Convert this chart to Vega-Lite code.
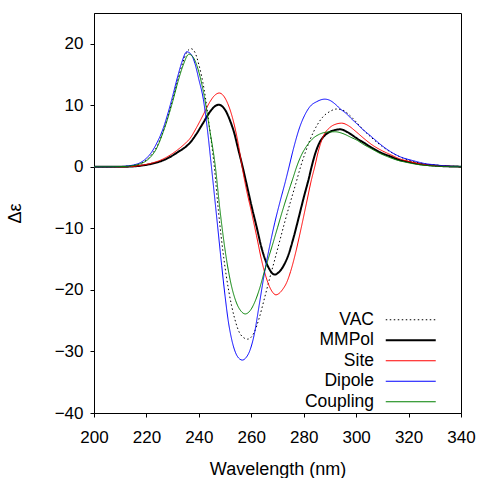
{
  "$schema": "https://vega.github.io/schema/vega-lite/v6.json",
  "autosize": {"type": "none"},
  "padding": {"left": 94, "top": 13, "right": 18, "bottom": 65},
  "width": 367,
  "height": 400,
  "background": "white",
  "config": {
    "view": {"stroke": "black", "strokeWidth": 1},
    "font": "Liberation Sans",
    "axis": {
      "grid": false,
      "domainColor": "black",
      "tickColor": "black",
      "labelColor": "black",
      "titleColor": "black",
      "labelFont": "Liberation Sans",
      "titleFont": "Liberation Sans",
      "labelFontSize": 17,
      "titleFontSize": 18,
      "titleFontWeight": "normal",
      "labelFlush": false,
      "tickSize": 4
    },
    "legend": {
      "orient": "none",
      "legendX": 308,
      "legendY": 298,
      "padding": 0,
      "symbolType": "M-5,0H5",
      "symbolSize": 100,
      "symbolStrokeWidth": 1.2,
      "rowPadding": 1.5,
      "labelAlign": "right",
      "labelOffset": -45.5,
      "labelFont": "Liberation Sans",
      "labelFontSize": 17.5,
      "labelColor": "black",
      "labelLimit": 0
    }
  },
  "layer": [
    {
      "mark": {"type": "rule", "color": "black", "strokeWidth": 1},
      "encoding": {"y": {"datum": 0, "type": "quantitative"}}
    },
    {
      "data": {
        "values": [
          {"s":"VAC","x":200,"y":0},{"s":"VAC","x":205,"y":0.01},{"s":"VAC","x":210,"y":0.05},{"s":"VAC","x":213,"y":0.12},{"s":"VAC","x":216,"y":0.32},{"s":"VAC","x":218,"y":0.6},{"s":"VAC","x":220,"y":1.1},{"s":"VAC","x":222,"y":2.0},{"s":"VAC","x":224,"y":3.3},{"s":"VAC","x":226,"y":5.3},{"s":"VAC","x":228,"y":7.9},{"s":"VAC","x":230,"y":10.9},{"s":"VAC","x":232,"y":14.2},{"s":"VAC","x":234,"y":17.1},{"s":"VAC","x":235.5,"y":18.7},{"s":"VAC","x":237,"y":19.2},{"s":"VAC","x":238.5,"y":18.6},{"s":"VAC","x":240,"y":16.6},{"s":"VAC","x":242,"y":12.6},{"s":"VAC","x":244,"y":6.6},{"s":"VAC","x":245.9,"y":0},{"s":"VAC","x":247.5,"y":-7.3},{"s":"VAC","x":249.5,"y":-14.8},{"s":"VAC","x":251.5,"y":-20.4},{"s":"VAC","x":253.5,"y":-24.4},{"s":"VAC","x":256,"y":-27.3},{"s":"VAC","x":258.6,"y":-28.0},{"s":"VAC","x":261,"y":-27.0},{"s":"VAC","x":263,"y":-24.6},{"s":"VAC","x":265,"y":-21.4},{"s":"VAC","x":266.9,"y":-18.3},{"s":"VAC","x":269,"y":-15.0},{"s":"VAC","x":271,"y":-11.8},{"s":"VAC","x":273,"y":-8.6},{"s":"VAC","x":275,"y":-5.6},{"s":"VAC","x":277,"y":-2.7},{"s":"VAC","x":278.8,"y":0},{"s":"VAC","x":280.5,"y":2.2},{"s":"VAC","x":282.5,"y":4.5},{"s":"VAC","x":285,"y":6.7},{"s":"VAC","x":287.5,"y":8.2},{"s":"VAC","x":290,"y":9.0},{"s":"VAC","x":292.5,"y":9.4},{"s":"VAC","x":295,"y":9.2},{"s":"VAC","x":297.5,"y":8.4},{"s":"VAC","x":300,"y":7.3},{"s":"VAC","x":303,"y":5.9},{"s":"VAC","x":306,"y":4.7},{"s":"VAC","x":310,"y":3.3},{"s":"VAC","x":314,"y":2.2},{"s":"VAC","x":318,"y":1.4},{"s":"VAC","x":322,"y":0.85},{"s":"VAC","x":326,"y":0.5},{"s":"VAC","x":330,"y":0.28},{"s":"VAC","x":335,"y":0.12},{"s":"VAC","x":340,"y":0.05},

          {"s":"MMPol","x":200,"y":0},{"s":"MMPol","x":210,"y":0.01},{"s":"MMPol","x":214,"y":0.05},{"s":"MMPol","x":218,"y":0.2},{"s":"MMPol","x":222,"y":0.5},{"s":"MMPol","x":226,"y":1.0},{"s":"MMPol","x":229,"y":1.6},{"s":"MMPol","x":232,"y":2.4},{"s":"MMPol","x":234.5,"y":3.1},{"s":"MMPol","x":236.6,"y":3.9},{"s":"MMPol","x":239,"y":5.3},{"s":"MMPol","x":241.6,"y":7.1},{"s":"MMPol","x":244,"y":8.8},{"s":"MMPol","x":246,"y":9.8},{"s":"MMPol","x":247.6,"y":10.1},{"s":"MMPol","x":249,"y":9.8},{"s":"MMPol","x":250.5,"y":8.9},{"s":"MMPol","x":252,"y":7.4},{"s":"MMPol","x":253.5,"y":5.5},{"s":"MMPol","x":255,"y":2.9},{"s":"MMPol","x":256.7,"y":0},{"s":"MMPol","x":258,"y":-2.4},{"s":"MMPol","x":260,"y":-6.2},{"s":"MMPol","x":262,"y":-9.7},{"s":"MMPol","x":264,"y":-13.3},{"s":"MMPol","x":265.5,"y":-15.3},{"s":"MMPol","x":267,"y":-16.7},{"s":"MMPol","x":268,"y":-17.3},{"s":"MMPol","x":269.1,"y":-17.5},{"s":"MMPol","x":270,"y":-17.3},{"s":"MMPol","x":271,"y":-16.9},{"s":"MMPol","x":272,"y":-16.3},{"s":"MMPol","x":273,"y":-15.5},{"s":"MMPol","x":274,"y":-14.5},{"s":"MMPol","x":276,"y":-11.7},{"s":"MMPol","x":278,"y":-8.4},{"s":"MMPol","x":280,"y":-5.0},{"s":"MMPol","x":282,"y":-1.8},{"s":"MMPol","x":283,"y":0},{"s":"MMPol","x":284.5,"y":2.3},{"s":"MMPol","x":286,"y":3.9},{"s":"MMPol","x":288,"y":5.1},{"s":"MMPol","x":290,"y":5.7},{"s":"MMPol","x":292,"y":6.0},{"s":"MMPol","x":294,"y":6.1},{"s":"MMPol","x":296,"y":5.8},{"s":"MMPol","x":298,"y":5.3},{"s":"MMPol","x":300,"y":4.7},{"s":"MMPol","x":303,"y":3.9},{"s":"MMPol","x":306,"y":3.1},{"s":"MMPol","x":310,"y":2.2},{"s":"MMPol","x":313,"y":1.7},{"s":"MMPol","x":316,"y":1.2},{"s":"MMPol","x":320,"y":0.8},{"s":"MMPol","x":325,"y":0.4},{"s":"MMPol","x":330,"y":0.2},{"s":"MMPol","x":335,"y":0.08},{"s":"MMPol","x":340,"y":0.03},

          {"s":"Site","x":200,"y":0},{"s":"Site","x":210,"y":0.01},{"s":"Site","x":214,"y":0.05},{"s":"Site","x":218,"y":0.25},{"s":"Site","x":222,"y":0.6},{"s":"Site","x":226,"y":1.2},{"s":"Site","x":229,"y":1.9},{"s":"Site","x":232,"y":2.8},{"s":"Site","x":234.5,"y":3.7},{"s":"Site","x":236.6,"y":4.6},{"s":"Site","x":239,"y":6.3},{"s":"Site","x":241.6,"y":8.4},{"s":"Site","x":244,"y":10.4},{"s":"Site","x":246,"y":11.6},{"s":"Site","x":247.8,"y":12.0},{"s":"Site","x":249.3,"y":11.6},{"s":"Site","x":251,"y":10.3},{"s":"Site","x":253,"y":7.7},{"s":"Site","x":255,"y":3.8},{"s":"Site","x":256.5,"y":0},{"s":"Site","x":258,"y":-3.4},{"s":"Site","x":260,"y":-7.2},{"s":"Site","x":262,"y":-11.2},{"s":"Site","x":264,"y":-15.3},{"s":"Site","x":266,"y":-18.4},{"s":"Site","x":268,"y":-20.3},{"s":"Site","x":269.4,"y":-20.8},{"s":"Site","x":270.5,"y":-20.6},{"s":"Site","x":272,"y":-19.9},{"s":"Site","x":273.5,"y":-18.8},{"s":"Site","x":275,"y":-17.0},{"s":"Site","x":277,"y":-13.8},{"s":"Site","x":279,"y":-10.0},{"s":"Site","x":281,"y":-6.0},{"s":"Site","x":283,"y":-2.0},{"s":"Site","x":284.2,"y":0},{"s":"Site","x":285.5,"y":2.4},{"s":"Site","x":287.5,"y":5.0},{"s":"Site","x":290,"y":6.4},{"s":"Site","x":292,"y":6.9},{"s":"Site","x":294.5,"y":7.1},{"s":"Site","x":297,"y":6.7},{"s":"Site","x":300,"y":5.7},{"s":"Site","x":303,"y":4.6},{"s":"Site","x":306,"y":3.6},{"s":"Site","x":310,"y":2.6},{"s":"Site","x":313,"y":2.0},{"s":"Site","x":316,"y":1.4},{"s":"Site","x":320,"y":0.9},{"s":"Site","x":325,"y":0.45},{"s":"Site","x":330,"y":0.22},{"s":"Site","x":335,"y":0.09},{"s":"Site","x":340,"y":0.03},

          {"s":"Dipole","x":200,"y":0},{"s":"Dipole","x":205,"y":0.01},{"s":"Dipole","x":210,"y":0.05},{"s":"Dipole","x":213,"y":0.15},{"s":"Dipole","x":215,"y":0.3},{"s":"Dipole","x":217.5,"y":0.65},{"s":"Dipole","x":220,"y":1.4},{"s":"Dipole","x":222,"y":2.4},{"s":"Dipole","x":224,"y":3.9},{"s":"Dipole","x":226,"y":5.8},{"s":"Dipole","x":228,"y":8.4},{"s":"Dipole","x":230,"y":11.5},{"s":"Dipole","x":232,"y":14.8},{"s":"Dipole","x":233.5,"y":17.0},{"s":"Dipole","x":235.4,"y":18.7},{"s":"Dipole","x":237,"y":18.3},{"s":"Dipole","x":238.5,"y":16.8},{"s":"Dipole","x":240,"y":14.2},{"s":"Dipole","x":241.7,"y":11.0},{"s":"Dipole","x":243,"y":7.0},{"s":"Dipole","x":244.8,"y":0},{"s":"Dipole","x":247,"y":-9.0},{"s":"Dipole","x":248.7,"y":-16.0},{"s":"Dipole","x":250,"y":-21.0},{"s":"Dipole","x":251.2,"y":-25.0},{"s":"Dipole","x":252.5,"y":-28.0},{"s":"Dipole","x":254,"y":-30.2},{"s":"Dipole","x":255.5,"y":-31.2},{"s":"Dipole","x":256.6,"y":-31.4},{"s":"Dipole","x":258,"y":-31.0},{"s":"Dipole","x":259.5,"y":-29.8},{"s":"Dipole","x":261,"y":-27.5},{"s":"Dipole","x":263,"y":-22.5},{"s":"Dipole","x":265,"y":-17.3},{"s":"Dipole","x":267,"y":-12.9},{"s":"Dipole","x":269,"y":-9.0},{"s":"Dipole","x":271,"y":-5.6},{"s":"Dipole","x":273,"y":-2.4},{"s":"Dipole","x":274.4,"y":0},{"s":"Dipole","x":276,"y":2.8},{"s":"Dipole","x":278.6,"y":6.6},{"s":"Dipole","x":280.5,"y":8.5},{"s":"Dipole","x":282.4,"y":9.8},{"s":"Dipole","x":285,"y":10.6},{"s":"Dipole","x":288,"y":11.0},{"s":"Dipole","x":290,"y":10.8},{"s":"Dipole","x":292,"y":10.2},{"s":"Dipole","x":294,"y":9.4},{"s":"Dipole","x":296.4,"y":8.6},{"s":"Dipole","x":298,"y":7.9},{"s":"Dipole","x":300,"y":7.1},{"s":"Dipole","x":303,"y":5.9},{"s":"Dipole","x":305.3,"y":5.1},{"s":"Dipole","x":308,"y":4.1},{"s":"Dipole","x":310,"y":3.4},{"s":"Dipole","x":313,"y":2.5},{"s":"Dipole","x":317,"y":1.6},{"s":"Dipole","x":321.8,"y":1.0},{"s":"Dipole","x":326,"y":0.55},{"s":"Dipole","x":330.7,"y":0.3},{"s":"Dipole","x":335,"y":0.12},{"s":"Dipole","x":340,"y":0.05},

          {"s":"Coupling","x":200,"y":0},{"s":"Coupling","x":205,"y":0.01},{"s":"Coupling","x":210,"y":0.04},{"s":"Coupling","x":213,"y":0.1},{"s":"Coupling","x":216,"y":0.3},{"s":"Coupling","x":218,"y":0.55},{"s":"Coupling","x":220,"y":1.0},{"s":"Coupling","x":222,"y":1.8},{"s":"Coupling","x":224,"y":3.1},{"s":"Coupling","x":226,"y":5.2},{"s":"Coupling","x":228,"y":7.7},{"s":"Coupling","x":230,"y":10.6},{"s":"Coupling","x":232,"y":13.8},{"s":"Coupling","x":234,"y":16.5},{"s":"Coupling","x":236.2,"y":18.3},{"s":"Coupling","x":238,"y":17.7},{"s":"Coupling","x":240,"y":15.4},{"s":"Coupling","x":242,"y":11.6},{"s":"Coupling","x":244,"y":6.4},{"s":"Coupling","x":246.3,"y":0},{"s":"Coupling","x":248,"y":-6.8},{"s":"Coupling","x":250,"y":-13.5},{"s":"Coupling","x":252,"y":-18.5},{"s":"Coupling","x":254,"y":-21.7},{"s":"Coupling","x":256,"y":-23.4},{"s":"Coupling","x":257.7,"y":-23.9},{"s":"Coupling","x":259.5,"y":-23.4},{"s":"Coupling","x":261.5,"y":-21.8},{"s":"Coupling","x":263.3,"y":-19.6},{"s":"Coupling","x":265,"y":-17.0},{"s":"Coupling","x":266.5,"y":-14.9},{"s":"Coupling","x":268,"y":-12.8},{"s":"Coupling","x":270,"y":-9.9},{"s":"Coupling","x":272,"y":-7.0},{"s":"Coupling","x":274,"y":-4.3},{"s":"Coupling","x":276,"y":-1.7},{"s":"Coupling","x":277.3,"y":0},{"s":"Coupling","x":279,"y":1.8},{"s":"Coupling","x":281,"y":3.3},{"s":"Coupling","x":283,"y":4.4},{"s":"Coupling","x":286,"y":5.3},{"s":"Coupling","x":289,"y":5.65},{"s":"Coupling","x":292,"y":5.7},{"s":"Coupling","x":295,"y":5.4},{"s":"Coupling","x":298,"y":4.8},{"s":"Coupling","x":300,"y":4.4},{"s":"Coupling","x":303,"y":3.6},{"s":"Coupling","x":306,"y":2.9},{"s":"Coupling","x":309,"y":2.2},{"s":"Coupling","x":312,"y":1.65},{"s":"Coupling","x":316,"y":1.05},{"s":"Coupling","x":319,"y":0.75},{"s":"Coupling","x":323,"y":0.42},{"s":"Coupling","x":327,"y":0.22},{"s":"Coupling","x":330,"y":0.13},{"s":"Coupling","x":335,"y":0.05},{"s":"Coupling","x":340,"y":0.02}
        ]
      },
      "mark": {"type": "line", "interpolate": "monotone", "clip": true},
      "encoding": {
        "x": {
          "field": "x", "type": "quantitative",
          "scale": {"domain": [200, 340], "nice": false, "zero": false},
          "axis": {"title": "Wavelength (nm)", "values": [200, 220, 240, 260, 280, 300, 320, 340], "labelPadding": 12, "titlePadding": 15}
        },
        "y": {
          "field": "y", "type": "quantitative",
          "scale": {"domain": [-40, 25], "nice": false, "zero": false},
          "axis": {"title": "Δε", "values": [-40, -30, -20, -10, 0, 10, 20], "labelPadding": 7, "titlePadding": 30}
        },
        "color": {
          "field": "s", "type": "nominal",
          "scale": {"domain": ["VAC", "MMPol", "Site", "Dipole", "Coupling"], "range": ["#000000", "#000000", "#ff0000", "#0000ff", "#008000"]},
          "legend": {"title": null, "encode": {"symbols": {"update": {"strokeWidth": {"signal": "datum.value === 'MMPol' ? 2 : 1.2"}}}}}
        },
        "strokeDash": {
          "field": "s", "type": "nominal",
          "scale": {"domain": ["VAC", "MMPol", "Site", "Dipole", "Coupling"], "range": [[1.5, 2.5], [1, 0], [1, 0], [1, 0], [1, 0]]},
          "legend": {"title": null, "encode": {"symbols": {"update": {"strokeWidth": {"signal": "datum.value === 'MMPol' ? 2 : 1.2"}}}}}
        },
        "strokeWidth": {
          "condition": {"test": "datum.s === 'MMPol'", "value": 2},
          "value": 1
        },
        "order": {"field": "x", "type": "quantitative"}
      }
    }
  ]
}
